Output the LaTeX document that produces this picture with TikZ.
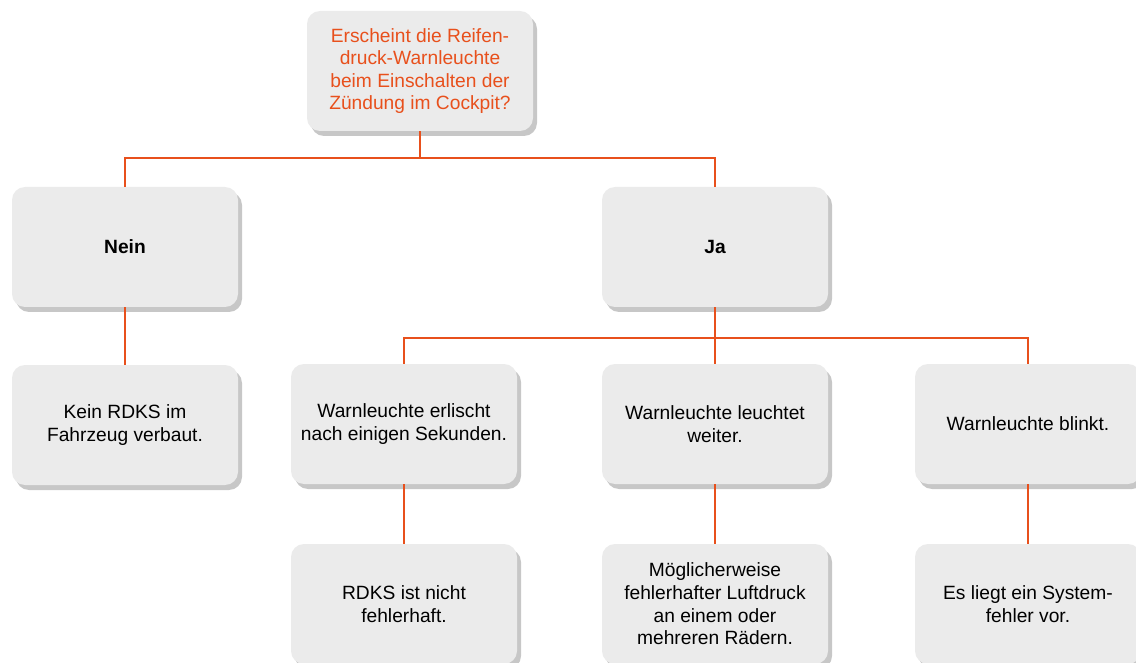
\documentclass[tikz,border=0pt]{standalone}
\usepackage{fontspec}
\setmainfont{Liberation Sans}
\usetikzlibrary{shadows}
\definecolor{rdksorange}{HTML}{E8501C}
\definecolor{boxgray}{HTML}{EBEBEB}

\begin{document}
\begin{tikzpicture}[x=1pt,y=-1pt,
 box/.style = {shape=rectangle, rounded corners=13pt, fill=boxgray, align=center,
   minimum width=226pt, minimum height=120pt,
   font=\fontsize{19.2}{22.6}\selectfont,
   drop shadow={shadow xshift=4pt, shadow yshift=-5pt, fill=black, opacity=0.22}},
 link/.style = {draw=rdksorange, line width=1.8pt}]
 \useasboundingbox (0,0) rectangle (1136,663);
 \node [box, text=rdksorange] (frage) at (420,71)
   {Erscheint die Reifen-\\druck-Warnleuchte\\beim Einschalten der\\Zündung im Cockpit?};
 \node [box] (nein) at (125,247) {\bfseries Nein};
 \node [box] (ja) at (715,247) {\bfseries Ja};
 \node [box] (kein) at (125,425) {Kein RDKS im\\Fahrzeug verbaut.};
 \node [box] (erlischt) at (404,424) {Warnleuchte erlischt\\nach einigen Sekunden.};
 \node [box] (leuchtet) at (715,424) {Warnleuchte leuchtet\\weiter.};
 \node [box] (blinkt) at (1028,424) {Warnleuchte blinkt.};
 \node [box] (fehlerfrei) at (404,604) {RDKS ist nicht\\fehlerhaft.};
 \node [box] (luftdruck) at (715,604)
   {Möglicherweise\\fehlerhafter Luftdruck\\an einem oder\\mehreren Rädern.};
 \node [box] (systemfehler) at (1028,604) {Es liegt ein System-\\fehler vor.};
 \coordinate (gabel1) at (420,158);
 \coordinate (gabel2) at (715,338);
 % Verbindungen
 \draw [link] (frage.south) -- (gabel1) -| (nein.north);
 \draw [link] (gabel1) -| (ja.north);
 \draw [link] (nein.south) -- (kein.north);
 \draw [link] (ja.south) -- (gabel2) -| (erlischt.north);
 \draw [link] (gabel2) -- (leuchtet.north);
 \draw [link] (gabel2) -| (blinkt.north);
 \draw [link] (erlischt.south) -- (fehlerfrei.north);
 \draw [link] (leuchtet.south) -- (luftdruck.north);
 \draw [link] (blinkt.south) -- (systemfehler.north);
\end{tikzpicture}
\end{document}
